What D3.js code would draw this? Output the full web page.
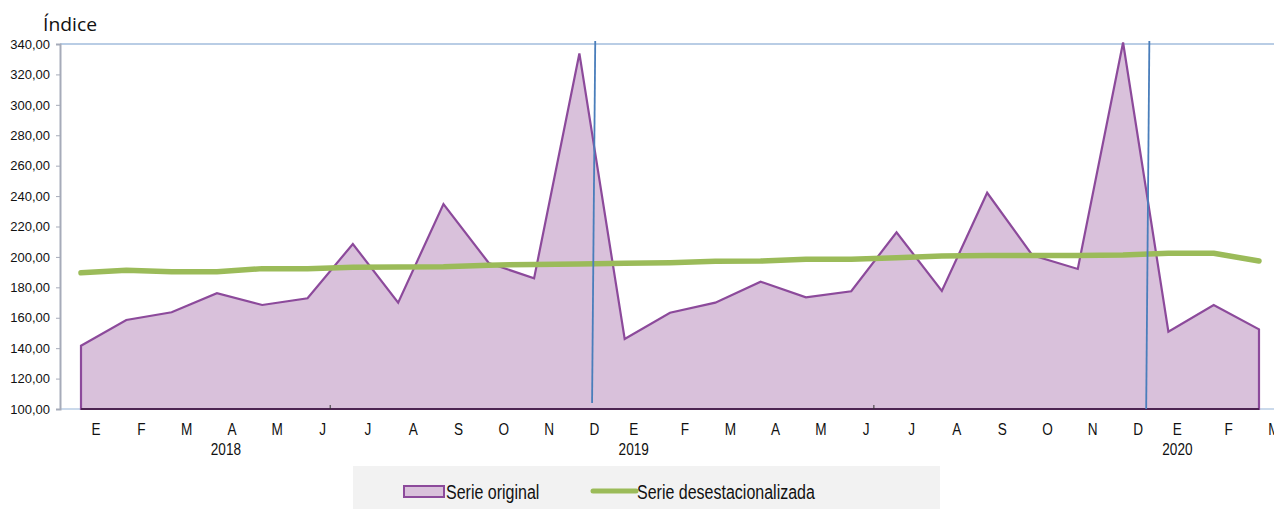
<!DOCTYPE html>
<html>
<head>
<meta charset="utf-8">
<script src="https://cdn.jsdelivr.net/npm/d3@7"></script>
<style>
  html, body { margin: 0; padding: 0; background: #fff; }
  svg { display: block; }
</style>
</head>
<body>
<svg id="chart" width="1274" height="509"></svg>
<script>
// ---- data ----
const months = ["E","F","M","A","M","J","J","A","S","O","N","D",
                "E","F","M","A","M","J","J","A","S","O","N","D",
                "E","F","M"];
const years = [{label:"2018", index:3},{label:"2019", index:12},{label:"2020", index:24}];
const serieOriginal = [141.6,158.5,163.6,176.1,168.4,172.8,208.5,169.9,234.8,196.0,185.9,333.8,
                       146.0,163.3,169.9,183.7,173.4,177.4,216.2,177.6,242.2,201.0,192.1,341.0,
                       150.8,168.4,152.4];
const serieDesest = [189.6,191.2,190.3,190.3,192.3,192.3,193.2,193.4,193.6,194.6,195.0,195.3,
                     195.8,196.2,197.1,197.3,198.4,198.4,199.5,200.6,201.0,201.0,201.0,201.2,
                     202.4,202.4,197.3];
const yTicks = [100,120,140,160,180,200,220,240,260,280,300,320,340];
const minorXTicks = [5.5, 17.5];
const markerLines = [
  {x1: 11.35, y1: 342, x2: 11.28, y2: 104},
  {x1: 23.58, y1: 342, x2: 23.51, y2: 100}
];
const legendItems = ["Serie original", "Serie desestacionalizada"];

// ---- layout ----
const svg = d3.select("#chart");
const x = d3.scaleLinear().domain([0, months.length - 1]).range([81, 1259]);
const y = d3.scaleLinear().domain([100, 340]).range([409, 44]);
const axisLeftX = 60, rightEdge = 1274;
const fmt = d3.formatLocale({decimal: ",", thousands: ".", grouping: [3], currency: ["", "€"]}).format(".2f");

const purple = "#8c4a9b", fill = "#d9c1db", green = "#9bbb59", blue = "#4a7ebb";
const baseFont = "Liberation Sans, Arial, sans-serif";
const narrowScale = 0.8;

// title
svg.append("text").attr("x", 43).attr("y", 31)
  .attr("font-family", "Open Sans, Liberation Sans, sans-serif").attr("font-size", 18)
  .attr("textLength", 54).attr("lengthAdjust", "spacingAndGlyphs")
  .attr("fill", "#111").text("Índice");

// top gridline and x axis line
svg.append("line").attr("x1", axisLeftX).attr("x2", rightEdge)
  .attr("y1", y(340)).attr("y2", y(340)).attr("stroke", "#b9cde5").attr("stroke-width", 2);
svg.append("line").attr("x1", axisLeftX).attr("x2", rightEdge)
  .attr("y1", y(100)).attr("y2", y(100)).attr("stroke", "#b9cde5").attr("stroke-width", 1.5);

// y axis
const yAxis = d3.axisLeft(y).tickValues(yTicks).tickSize(4).tickPadding(6).tickFormat(fmt);
const gy = svg.append("g").attr("transform", `translate(${axisLeftX},0)`).call(yAxis);
gy.select(".domain").attr("stroke", "#a6abb9").attr("stroke-width", 2);
gy.selectAll(".tick line").attr("stroke", "#a6abb9");
gy.selectAll(".tick text").attr("font-family", baseFont)
  .attr("font-size", 13).attr("fill", "#111");

// area (serie original)
const area = d3.area().x((d, i) => x(i)).y0(y(100)).y1(d => y(d));
const line = d3.line().x((d, i) => x(i)).y(d => y(d));
svg.append("path").datum(serieOriginal).attr("d", area).attr("fill", fill);
svg.append("path").datum(serieOriginal)
  .attr("d", d => line(d) + `L${x(d.length - 1)},${y(100)}L${x(0)},${y(100)}Z`)
  .attr("fill", "none").attr("stroke", purple).attr("stroke-width", 2.2).attr("stroke-linejoin", "miter");
svg.append("line").attr("x1", x(0)).attr("x2", x(months.length - 1))
  .attr("y1", y(100)).attr("y2", y(100)).attr("stroke", "#4d2552").attr("stroke-width", 2);

// minor x ticks
svg.selectAll(".mtick").data(minorXTicks).enter().append("line")
  .attr("x1", d => x(d)).attr("x2", d => x(d))
  .attr("y1", y(100) - 4).attr("y2", y(100)).attr("stroke", "#333").attr("stroke-width", 1);

// green line
svg.append("path").datum(serieDesest).attr("d", line)
  .attr("fill", "none").attr("stroke", green).attr("stroke-width", 5.5)
  .attr("stroke-linecap", "round").attr("stroke-linejoin", "round");

// blue marker lines
svg.selectAll(".marker").data(markerLines).enter().append("line")
  .attr("x1", d => x(d.x1)).attr("y1", d => y(d.y1))
  .attr("x2", d => x(d.x2)).attr("y2", d => y(d.y2))
  .attr("stroke", blue).attr("stroke-width", 1.8);

// narrow text helper
function narrowText(sel, px, py, size, anchor) {
  return sel.append("text")
    .attr("transform", `translate(${px},${py}) scale(${narrowScale},1)`)
    .attr("text-anchor", anchor || "start")
    .attr("font-family", baseFont).attr("font-size", size).attr("fill", "#111");
}

// x labels
const labelX = i => x(i) + 15 - (i > 0 && months[i] === "E" ? 6 : 0);
months.forEach((m, i) => narrowText(svg, labelX(i), 435, 17, "middle").text(m));
years.forEach(d => narrowText(svg, labelX(d.index) - (d.index === 3 ? 6 : 0), 455, 17, "middle").text(d.label));

// legend
const lg = svg.append("g");
lg.append("rect").attr("x", 353).attr("y", 466).attr("width", 587).attr("height", 43).attr("fill", "#f2f2f2");
lg.append("rect").attr("x", 404).attr("y", 486).attr("width", 40).attr("height", 11)
  .attr("fill", fill).attr("stroke", purple).attr("stroke-width", 2);
narrowText(lg, 446, 499, 20).text(legendItems[0]);
lg.append("line").attr("x1", 593).attr("x2", 636).attr("y1", 491).attr("y2", 491)
  .attr("stroke", green).attr("stroke-width", 5).attr("stroke-linecap", "round");
narrowText(lg, 637, 499, 20).text(legendItems[1]);
</script>
</body>
</html>
